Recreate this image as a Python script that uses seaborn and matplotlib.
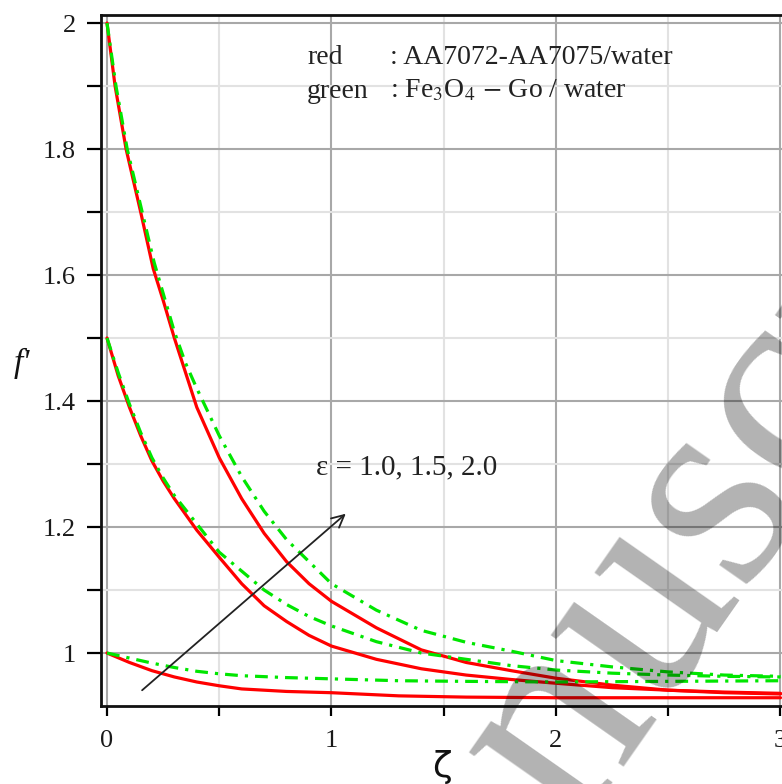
import numpy as np
import pandas as pd
import matplotlib
matplotlib.use("Agg")
import matplotlib.pyplot as plt
import seaborn as sns

# values (zeta -> f')
zeta_r2 = [0, 0.036, 0.085, 0.15, 0.206, 0.25, 0.3, 0.35, 0.4, 0.5, 0.6, 0.7, 0.8, 0.9, 1.0, 1.2, 1.4, 1.6, 1.8, 2.0, 2.25, 2.5, 2.75, 3.0]
f_r2 = [2.0, 1.90, 1.80, 1.70, 1.61, 1.56, 1.50, 1.445, 1.39, 1.31, 1.245, 1.19, 1.145, 1.11, 1.082, 1.04, 1.005, 0.985, 0.972, 0.960, 0.949, 0.941, 0.937, 0.935]

zeta_g2 = [0, 0.04, 0.09, 0.15, 0.21, 0.3, 0.35, 0.4, 0.5, 0.6, 0.7, 0.8, 0.9, 1.0, 1.2, 1.4, 1.6, 1.8, 2.0, 2.25, 2.5, 2.75, 3.0]
f_g2 = [2.0, 1.90, 1.80, 1.71, 1.62, 1.51, 1.46, 1.42, 1.345, 1.28, 1.225, 1.18, 1.145, 1.11, 1.068, 1.036, 1.017, 1.003, 0.988, 0.978, 0.970, 0.965, 0.963]

zeta_r15 = [0, 0.05, 0.1, 0.15, 0.2, 0.25, 0.3, 0.4, 0.5, 0.6, 0.7, 0.8, 0.9, 1.0, 1.2, 1.4, 1.6, 1.8, 2.0, 2.25, 2.5, 2.75, 3.0]
f_r15 = [1.5, 1.44, 1.39, 1.345, 1.305, 1.273, 1.245, 1.195, 1.152, 1.11, 1.075, 1.05, 1.028, 1.011, 0.99, 0.975, 0.965, 0.958, 0.952, 0.945, 0.941, 0.938, 0.936]

zeta_g15 = [0, 0.05, 0.1, 0.15, 0.2, 0.25, 0.3, 0.4, 0.5, 0.6, 0.7, 0.8, 0.9, 1.0, 1.2, 1.4, 1.6, 1.8, 2.0, 2.25, 2.5, 2.75, 3.0]
f_g15 = [1.5, 1.445, 1.395, 1.35, 1.31, 1.278, 1.25, 1.205, 1.16, 1.13, 1.10, 1.077, 1.058, 1.043, 1.018, 1.0, 0.99, 0.98, 0.973, 0.968, 0.965, 0.963, 0.962]

zeta_r1 = [0, 0.1, 0.2, 0.3, 0.4, 0.5, 0.6, 0.8, 1.0, 1.3, 1.6, 2.0, 2.5, 3.0]
f_r1 = [1.0, 0.985, 0.972, 0.962, 0.954, 0.948, 0.943, 0.939, 0.937, 0.932, 0.930, 0.929, 0.929, 0.929]

zeta_g1 = [0, 0.1, 0.2, 0.3, 0.4, 0.5, 0.6, 0.8, 1.0, 1.3, 1.6, 2.0, 2.5, 3.0]
f_g1 = [1.0, 0.992, 0.984, 0.977, 0.971, 0.967, 0.964, 0.961, 0.959, 0.956, 0.955, 0.954, 0.955, 0.956]

curves = [
    ("red", 2.0, zeta_r2, f_r2),
    ("red", 1.5, zeta_r15, f_r15),
    ("red", 1.0, zeta_r1, f_r1),
    ("green", 2.0, zeta_g2, f_g2),
    ("green", 1.5, zeta_g15, f_g15),
    ("green", 1.0, zeta_g1, f_g1),
]
rows = []
for fluid, eps, zz, ff in curves:
    for z, f in zip(zz, ff):
        rows.append({"zeta": z, "f": f, "fluid": fluid, "eps": eps})
df = pd.DataFrame(rows)

sns.set_theme(style="white")
plt.rcParams["font.family"] = ["Liberation Serif", "DejaVu Serif"]
plt.rcParams["mathtext.fontset"] = "stix"

W, H = 782, 784
fig = plt.figure(figsize=(W / 100, H / 100), dpi=100)
ax = fig.add_axes([101 / W, (H - 706) / H, (W - 101) / W, (706 - 15) / H])

sns.lineplot(
    data=df, x="zeta", y="f", hue="fluid", style="fluid", units="eps",
    estimator=None, hue_order=["red", "green"],
    palette={"red": "#ff0000", "green": "#00e600"},
    dashes={"red": "", "green": (4, 2.2, 1, 2.2)},
    linewidth=2.3, legend=False, ax=ax, zorder=3,
)

ax.set_xlim(-0.0267, 3.0067)
ax.set_ylim(0.9159, 2.0127)
ax.set_xlabel("")
ax.set_ylabel("")

ax.set_xticks([0, 1, 2, 3])
ax.set_xticks([0.5, 1.5, 2.5], minor=True)
ax.set_yticks([1.0, 1.2, 1.4, 1.6, 1.8, 2.0])
ax.set_yticklabels(["1", "1.2", "1.4", "1.6", "1.8", "2"])
ax.set_yticks([1.1, 1.3, 1.5, 1.7, 1.9], minor=True)
ax.tick_params(axis="both", which="both", direction="out", color="black", width=1.6, labelcolor="#1a1a1a")
ax.tick_params(axis="y", which="both", length=10, pad=8, labelsize=19, left=True)
ax.tick_params(axis="x", which="both", length=7, pad=10, labelsize=19, bottom=True)

ax.grid(True, which="major", color="#a8a8a8", linewidth=1.5, zorder=0)
ax.grid(True, which="minor", color="#e2e2e2", linewidth=1.5, zorder=0)
ax.set_axisbelow(True)

for side in ["left", "bottom", "top"]:
    ax.spines[side].set_color("#111111")
    ax.spines[side].set_linewidth(2)
ax.spines["right"].set_visible(False)

ax.annotate("", xy=(1.073, 1.224), xytext=(0.147, 0.938),
            arrowprops=dict(arrowstyle="->", color="#222222", lw=1.3, mutation_scale=22), zorder=4)
ax.text(0.93, 1.294, "ε = 1.0, 1.5, 2.0", fontsize=21, color="#222222", va="center", ha="left", zorder=4)

fig.text(307 / W, 1 - 57 / H, "red", fontsize=20, color="#222222", va="center")
fig.text(390 / W, 1 - 57 / H, ": AA7072-AA7075/water", fontsize=20, color="#222222", va="center")
fig.text(307 / W, 1 - 91 / H, "green", fontsize=20, color="#222222", va="center")
fig.text(390 / W, 1 - 91 / H, r": Fe$_3$O$_4$ $-$ Go / water", fontsize=20, color="#222222", va="center")

fig.text(22 / W, 1 - 363 / H, "f'", fontsize=24, style="italic", color="#111111", ha="center", va="center")
fig.text(442 / W, 1 - 767 / H, "ζ", fontsize=26, family="DejaVu Sans", color="#111111", ha="center", va="center")

fig.text(0.86, 0.285, "Manuscript", fontsize=210, color="black", alpha=0.3,
         rotation=55, rotation_mode="anchor", ha="center", va="center", zorder=10)

fig.savefig("out.png", dpi=100)
